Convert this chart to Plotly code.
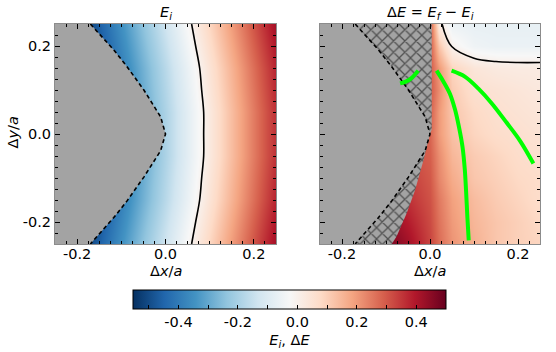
import plotly.graph_objects as go

# grid coordinates (x/a, y/a)
x_left = [-0.25, -0.2, -0.15, -0.1, -0.05, 0.0, 0.05, 0.1, 0.15, 0.2, 0.25]
y_grid = [-0.25, -0.2, -0.15, -0.1, -0.05, 0.0, 0.05, 0.1, 0.15, 0.2, 0.25]
x_right = [-0.25, -0.2, -0.15, -0.1, -0.05, 0.0, 0.02, 0.05, 0.1, 0.15, 0.2, 0.25]

# E_i (rows follow y_grid)
E_i = [
    [-0.68, -0.57, -0.46, -0.35, -0.24, -0.13, -0.02, 0.09, 0.20, 0.31, 0.42],
    [-0.70, -0.59, -0.48, -0.37, -0.26, -0.15, -0.04, 0.07, 0.18, 0.29, 0.40],
    [-0.72, -0.61, -0.50, -0.39, -0.28, -0.17, -0.06, 0.05, 0.16, 0.27, 0.38],
    [-0.73, -0.62, -0.51, -0.40, -0.29, -0.18, -0.07, 0.04, 0.15, 0.26, 0.37],
    [-0.74, -0.63, -0.52, -0.41, -0.30, -0.19, -0.08, 0.03, 0.14, 0.25, 0.36],
    [-0.74, -0.63, -0.52, -0.41, -0.30, -0.19, -0.08, 0.03, 0.14, 0.25, 0.36],
    [-0.74, -0.63, -0.52, -0.41, -0.30, -0.19, -0.08, 0.03, 0.14, 0.25, 0.36],
    [-0.73, -0.62, -0.51, -0.40, -0.29, -0.18, -0.07, 0.04, 0.15, 0.26, 0.37],
    [-0.72, -0.61, -0.50, -0.39, -0.28, -0.17, -0.06, 0.05, 0.16, 0.27, 0.38],
    [-0.70, -0.59, -0.48, -0.37, -0.26, -0.15, -0.04, 0.07, 0.18, 0.29, 0.40],
    [-0.68, -0.57, -0.46, -0.35, -0.24, -0.13, -0.02, 0.09, 0.20, 0.31, 0.42],
]

# dE = E_f - E_i (rows follow y_grid)
dE = [
    [0.50, 0.50, 0.50, 0.48, 0.42, 0.33, 0.27, 0.21, 0.16, 0.12, 0.10, 0.09],
    [0.48, 0.48, 0.48, 0.45, 0.39, 0.32, 0.26, 0.20, 0.15, 0.12, 0.10, 0.08],
    [0.45, 0.45, 0.45, 0.42, 0.36, 0.31, 0.25, 0.19, 0.14, 0.11, 0.09, 0.07],
    [0.40, 0.40, 0.40, 0.38, 0.34, 0.30, 0.23, 0.17, 0.12, 0.10, 0.08, 0.07],
    [0.35, 0.35, 0.35, 0.34, 0.32, 0.29, 0.22, 0.15, 0.11, 0.09, 0.07, 0.06],
    [0.30, 0.30, 0.30, 0.30, 0.30, 0.28, 0.20, 0.13, 0.09, 0.07, 0.06, 0.05],
    [0.30, 0.30, 0.30, 0.30, 0.30, 0.29, 0.20, 0.12, 0.08, 0.06, 0.05, 0.04],
    [0.30, 0.30, 0.30, 0.30, 0.30, 0.30, 0.22, 0.11, 0.06, 0.05, 0.04, 0.03],
    [0.30, 0.30, 0.30, 0.30, 0.30, 0.30, 0.20, 0.09, 0.04, 0.025, 0.02, 0.02],
    [0.30, 0.30, 0.30, 0.30, 0.30, 0.30, 0.12, -0.005, -0.05, -0.06, -0.06, -0.06],
    [0.30, 0.30, 0.30, 0.30, 0.30, 0.30, 0.02, -0.06, -0.07, -0.07, -0.07, -0.07],
]

# boundary of the excluded (grey) region
excl_x = [-0.170, -0.117, -0.087, -0.049, -0.011, 0.0, -0.011, -0.049, -0.087, -0.117, -0.170]
excl_y = [0.25, 0.191, 0.153, 0.100, 0.039, 0.0, -0.038, -0.098, -0.152, -0.190, -0.25]

# right edge of the hatched region
hatch_x = [0.004, 0.004, 0.0, -0.015, -0.034, -0.053, -0.076, -0.087]
hatch_y = [0.25, 0.01, 0.0, -0.06, -0.128, -0.18, -0.233, -0.25]

# green paths
path1_x = [-0.068, -0.055, -0.042, -0.027]
path1_y = [0.115, 0.119, 0.127, 0.144]
path2_x = [0.015, 0.03, 0.045, 0.057, 0.066, 0.074, 0.079, 0.082, 0.085, 0.088]
path2_y = [0.144, 0.12, 0.092, 0.055, 0.015, -0.03, -0.08, -0.13, -0.19, -0.242]
path3_x = [0.049, 0.08, 0.11, 0.14, 0.174, 0.205, 0.235]
path3_y = [0.144, 0.13, 0.103, 0.07, 0.026, -0.016, -0.067]

cb_ticks = [-0.5, -0.4, -0.3, -0.2, -0.1, 0.0, 0.1, 0.2, 0.3, 0.4, 0.5]
cb_text = [" ", "-0.4", " ", "-0.2", " ", "0.0", " ", "0.2", " ", "0.4", " "]

GREY = "#a3a3a3"
FONT = "DejaVu Sans"
FS = 14.5
lo, hi = -0.26, 0.26
W, H = 556, 352


def px_x(X):
    return X / W


def px_y(Y):
    return 1 - Y / H


fig = go.Figure()

for xa, ya, xs, z in [("x", "y", x_left, E_i), ("x2", "y2", x_right, dE)]:
    fig.add_trace(go.Heatmap(x=xs, y=y_grid, z=z, coloraxis="coloraxis",
                             zsmooth="best", xaxis=xa, yaxis=ya,
                             hoverinfo="skip"))
    if xa == "x2":
        fig.add_trace(go.Scatter(
            x=[lo] + hatch_x + [lo], y=[hi] + hatch_y + [lo],
            fill="toself", mode="lines", line=dict(width=0),
            fillcolor=GREY,
            fillpattern=dict(shape="x", bgcolor=GREY, fgcolor="black",
                             size=8, solidity=0.3),
            xaxis=xa, yaxis=ya, showlegend=False, hoverinfo="skip"))
    fig.add_trace(go.Scatter(
        x=[lo] + excl_x + [lo], y=[hi] + excl_y + [lo],
        fill="toself", mode="lines", line=dict(width=0), fillcolor=GREY,
        xaxis=xa, yaxis=ya, showlegend=False, hoverinfo="skip"))
    fig.add_trace(go.Scatter(
        x=excl_x, y=excl_y, mode="lines",
        line=dict(color="black", width=1.6, dash="4px,3px"),
        xaxis=xa, yaxis=ya, showlegend=False, hoverinfo="skip"))
    fig.add_trace(go.Contour(
        x=xs, y=y_grid, z=z, showscale=False,
        contours=dict(start=0, end=0, size=1, coloring="none"),
        line=dict(color="black", width=1.6, smoothing=1.0),
        xaxis=xa, yaxis=ya, hoverinfo="skip"))

for px_, py_ in [(path1_x, path1_y), (path2_x, path2_y), (path3_x, path3_y)]:
    fig.add_trace(go.Scatter(x=px_, y=py_, mode="lines",
                             line=dict(color="#00ff00", width=4, shape="spline"),
                             xaxis="x2", yaxis="y2", showlegend=False,
                             hoverinfo="skip"))

axis_common = dict(
    range=[-0.25, 0.25], showgrid=False, zeroline=False,
    showline=True, linecolor="#8c8c8c", linewidth=1, mirror="allticks",
    ticks="inside", ticklen=5, tickcolor="black", tickwidth=1,
    tickvals=[-0.2, 0.0, 0.2], ticktext=["-0.2", "0.0", "0.2"],
    minor=dict(ticks="inside", ticklen=3, dtick=0.025, tickcolor="black",
               tick0=0),
    tickfont=dict(family=FONT, size=FS, color="black"),
)

fig.update_layout(
    width=W, height=H,
    margin=dict(l=0, r=0, t=0, b=0),
    paper_bgcolor="white", plot_bgcolor="white",
    font=dict(family=FONT, size=FS, color="black"),
    xaxis=dict(domain=[px_x(55), px_x(276)], anchor="y", **axis_common),
    yaxis=dict(domain=[px_y(244), px_y(24)], anchor="x", **axis_common),
    xaxis2=dict(domain=[px_x(320), px_x(540)], anchor="y2", **axis_common),
    yaxis2=dict(domain=[px_y(244), px_y(24)], anchor="x2",
                showticklabels=False, **axis_common),
    coloraxis=dict(
        cmin=-0.553, cmax=0.5, colorscale="RdBu_r",
        colorbar=dict(
            orientation="h", x=px_x(289.5), xanchor="center", xref="paper",
            y=px_y(290), yanchor="top", yref="paper",
            lenmode="pixels", len=313, thickness=19, xpad=0, ypad=0,
            outlinecolor="black", outlinewidth=1,
            ticks="inside", ticklen=4, tickcolor="black",
            tickvals=cb_ticks, ticktext=cb_text,
            tickfont=dict(family=FONT, size=FS, color="black"),
            title=dict(text="<i>E<sub>i</sub></i>, Δ<i>E</i>", side="bottom",
                       font=dict(family=FONT, size=FS, color="black")),
        ),
    ),
    showlegend=False,
)
fig.update_xaxes(ticklabelstandoff=-3)

annots = [
    dict(x=165.5, y=13, text="<i>E<sub>i</sub></i>"),
    dict(x=430, y=13, text="Δ<i>E</i> = <i>E<sub>f</sub></i> − <i>E<sub>i</sub></i>"),
    dict(x=165.5, y=271, text="Δ<i>x</i>/<i>a</i>"),
    dict(x=430, y=271, text="Δ<i>x</i>/<i>a</i>"),
]
for a in annots:
    fig.add_annotation(x=px_x(a["x"]), y=px_y(a["y"]), xref="paper",
                       yref="paper", text=a["text"], showarrow=False,
                       xanchor="center", yanchor="middle",
                       font=dict(family=FONT, size=FS, color="black"))
fig.add_annotation(x=px_x(12.5), y=px_y(133), xref="paper", yref="paper",
                   text="Δ<i>y</i>/<i>a</i>", showarrow=False, textangle=-90,
                   xanchor="center", yanchor="middle",
                   font=dict(family=FONT, size=FS, color="black"))

# drop the default 8px page margin so the figure sits at the window corner
fig.write_html("out.html", config={"displayModeBar": False},
               post_script="document.body.style.margin = '0';")
